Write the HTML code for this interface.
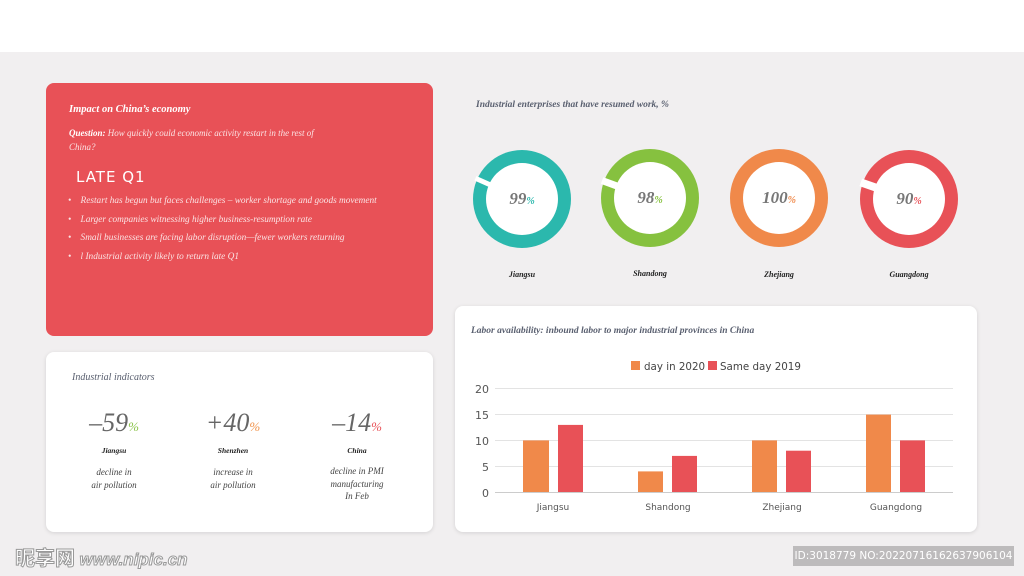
<!DOCTYPE html>
<html><head><meta charset="utf-8"><style>
body{margin:0;width:1024px;height:576px;background:#f1eff0;position:relative;overflow:hidden;font-family:"Liberation Serif",serif}
.abs{position:absolute}
.card{position:absolute;background:#fff;border-radius:8px;box-shadow:0 1px 4px rgba(0,0,0,0.12)}
.it{font-style:italic}
</style></head><body>
<div class="abs" style="left:0;top:0;width:1024px;height:52px;background:#fff"></div>
<div class="abs" style="left:46px;top:83px;width:387px;height:253px;background:#e85157;border-radius:8px;color:#fff">
 <div class="abs it" style="left:23px;top:21px;font-size:10.5px;font-weight:bold">Impact on China’s economy</div>
 <div class="abs it" style="left:23px;top:44px;font-size:9px;line-height:13.5px;width:255px;color:#fbe3e4"><b style="color:#fff">Question:</b> How quickly could economic activity restart in the rest of China?</div>
 <div class="abs" style="left:30px;top:85px;font-size:15px;font-family:'DejaVu Sans',sans-serif;letter-spacing:1px">LATE Q1</div>
 <div class="abs it" style="left:22px;top:109px;font-size:9.3px;line-height:18.7px;color:#fbe3e4">
  <div>•&nbsp;&nbsp;&nbsp;&nbsp;Restart has begun but faces challenges – worker shortage and goods movement</div>
  <div>•&nbsp;&nbsp;&nbsp;&nbsp;Larger companies witnessing higher business-resumption rate</div>
  <div>•&nbsp;&nbsp;&nbsp;&nbsp;Small businesses are facing labor disruption—fewer workers returning</div>
  <div>•&nbsp;&nbsp;&nbsp;&nbsp;l Industrial activity likely to return late Q1</div>
 </div>
</div>
<div class="card" style="left:46px;top:352px;width:387px;height:180px">
 <div class="abs it" style="left:26px;top:20px;font-size:10px;color:#5a6070">Industrial indicators</div>
 <div class="abs it" style="left:0;top:56px;width:387px;color:#666">
  <div class="abs" style="left:8px;width:120px;text-align:center;font-size:26px">–59<span style="font-size:13px;color:#8bc34a">%</span></div>
  <div class="abs" style="left:127px;width:120px;text-align:center;font-size:26px">+40<span style="font-size:13px;color:#f0924a">%</span></div>
  <div class="abs" style="left:251px;width:120px;text-align:center;font-size:26px">–14<span style="font-size:13px;color:#e85157">%</span></div>
 </div>
 <div class="abs it" style="left:8px;top:94px;width:120px;text-align:center;font-size:7.5px;font-weight:bold;color:#222">Jiangsu</div>
 <div class="abs it" style="left:127px;top:94px;width:120px;text-align:center;font-size:7.5px;font-weight:bold;color:#222">Shenzhen</div>
 <div class="abs it" style="left:251px;top:94px;width:120px;text-align:center;font-size:7.5px;font-weight:bold;color:#222">China</div>
 <div class="abs it" style="left:8px;top:114px;width:120px;text-align:center;font-size:9px;line-height:13px;color:#444">decline in<br>air pollution</div>
 <div class="abs it" style="left:127px;top:114px;width:120px;text-align:center;font-size:9px;line-height:13px;color:#444">increase in<br>air pollution</div>
 <div class="abs it" style="left:251px;top:113px;width:120px;text-align:center;font-size:9px;line-height:12.5px;color:#444">decline in PMI<br>manufacturing<br>In Feb</div>
</div>
<div class="abs it" style="left:476px;top:100px;font-size:9.5px;color:#5a6070;font-weight:bold">Industrial enterprises that have resumed work, %</div>
<svg class="abs" style="left:0;top:0" width="1024" height="576">
 <g font-family="Liberation Serif" font-style="italic" text-anchor="middle">
  <g transform="translate(522,199)"><circle r="49" fill="#2bb8ad"/><circle r="36" fill="#fff"/><rect x="-51" y="-2.5" width="16" height="5" fill="#fff" transform="rotate(24)"/><text y="5" font-size="17" font-weight="bold" fill="#777">99<tspan font-size="10" fill="#2bb8ad">%</tspan></text></g>
  <g transform="translate(650,198)"><circle r="49" fill="#86c13f"/><circle r="36" fill="#fff"/><rect x="-51" y="-3.5" width="16" height="7" fill="#fff" transform="rotate(20)"/><text y="5" font-size="17" font-weight="bold" fill="#777">98<tspan font-size="10" fill="#86c13f">%</tspan></text></g>
  <g transform="translate(779,198)"><circle r="49" fill="#f0894a"/><circle r="36" fill="#fff"/><text y="5" font-size="17" font-weight="bold" fill="#777">100<tspan font-size="10" fill="#f0894a">%</tspan></text></g>
  <g transform="translate(909,199)"><circle r="49" fill="#e85157"/><circle r="36" fill="#fff"/><rect x="-51" y="-4" width="16" height="8" fill="#fff" transform="rotate(19)"/><text y="5" font-size="17" font-weight="bold" fill="#777">90<tspan font-size="10" fill="#e85157">%</tspan></text></g>
  <g font-size="8" font-weight="bold" fill="#222">
   <text x="522" y="277">Jiangsu</text><text x="650" y="276">Shandong</text><text x="779" y="277">Zhejiang</text><text x="909" y="277">Guangdong</text>
  </g>
 </g>
</svg>
<div class="card" style="left:455px;top:306px;width:522px;height:226px"></div>
<div class="abs it" style="left:471px;top:326px;font-size:9.5px;font-weight:bold;color:#5a6070">Labor availability: inbound labor to major industrial provinces in China</div>
<svg class="abs" style="left:0;top:0" width="1024" height="576" font-family="'DejaVu Sans',sans-serif">
 <g stroke="#e3e3e3" stroke-width="1">
  <line x1="495" x2="953" y1="388.5" y2="388.5"/><line x1="495" x2="953" y1="414.5" y2="414.5"/><line x1="495" x2="953" y1="440.5" y2="440.5"/><line x1="495" x2="953" y1="466.5" y2="466.5"/>
 </g>
 <line x1="495" x2="953" y1="492.5" y2="492.5" stroke="#ccc"/>
 <g font-size="11" fill="#555" text-anchor="end">
  <text x="489" y="393">20</text><text x="489" y="419">15</text><text x="489" y="445">10</text><text x="489" y="471">5</text><text x="489" y="497">0</text>
 </g>
 <g fill="#f0894a"><rect x="523" y="440.4" width="26" height="51.6"/><rect x="638" y="471.4" width="25" height="20.6"/><rect x="752" y="440.4" width="25" height="51.6"/><rect x="866" y="414.6" width="25" height="77.4"/></g>
 <g fill="#e85157"><rect x="558" y="424.9" width="25" height="67.1"/><rect x="672" y="455.9" width="25" height="36.1"/><rect x="786" y="450.7" width="25" height="41.3"/><rect x="900" y="440.4" width="25" height="51.6"/></g>
 <g font-size="9" fill="#555" text-anchor="middle">
  <text x="553" y="510">Jiangsu</text><text x="668" y="510">Shandong</text><text x="782" y="510">Zhejiang</text><text x="896" y="510">Guangdong</text>
 </g>
 <rect x="631" y="361" width="9" height="9" fill="#f0894a"/><text x="644" y="370" font-size="10.3" fill="#444">day in 2020</text>
 <rect x="708" y="361" width="9" height="9" fill="#e85157"/><text x="720" y="370" font-size="10.3" fill="#444">Same day 2019</text>
</svg>
<div class="abs" style="left:793px;top:546px;width:221px;height:20px;background:#bdbbbc;color:#fff;font-family:'DejaVu Sans',sans-serif;font-size:10.5px;line-height:20px;text-align:center">ID:3018779 NO:20220716162637906104</div>
<div class="abs" style="left:15px;top:542px;font-family:'Noto Sans CJK SC',sans-serif;font-size:20px;color:#fff;-webkit-text-stroke:1px #999;font-weight:bold">昵享网 <span style="font-family:'Liberation Sans',sans-serif;font-style:italic;font-size:17px">www.nipic.cn</span></div>
</body></html>
